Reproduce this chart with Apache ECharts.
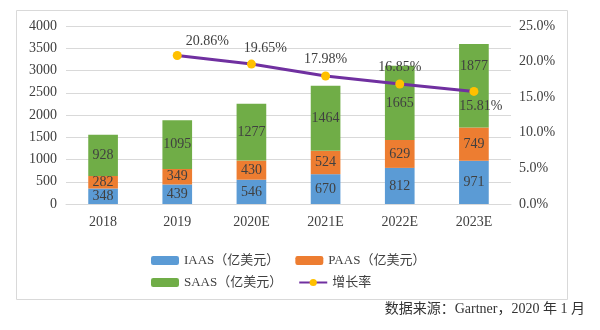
<!DOCTYPE html>
<html>
<head>
<meta charset="utf-8">
<script src="https://cdn.jsdelivr.net/npm/echarts@6/dist/echarts.min.js"></script>
<style>
  html, body { margin: 0; padding: 0; background: #fff; }
  #chart { width: 600px; height: 330px; }
</style>
</head>
<body>
<div id="chart"></div>
<script>
// Cloud market size by service layer (亿美元) and its yearly growth rate
const categories = ['2018', '2019', '2020E', '2021E', '2022E', '2023E'];
const iaas = [348, 439, 546, 670, 812, 971];
const paas = [282, 349, 430, 524, 629, 749];
const saas = [928, 1095, 1277, 1464, 1665, 1877];
const growth = [null, 20.86, 19.65, 17.98, 16.85, 15.81];
const leftTicks = { min: 0, max: 4000, interval: 500 };
const rightTicks = { min: 0, max: 25, interval: 5 };

const FONT = "'Liberation Serif', 'Times New Roman', 'Noto Sans CJK SC', serif";
const TEXT = '#404040';
const GRID = '#d9d9d9';

const chart = echarts.init(document.getElementById('chart'), null, { renderer: 'canvas' });

const barLabel = {
  show: true,
  position: 'inside',
  color: TEXT,
  fontFamily: FONT,
  fontSize: 14
};

// The 2023E SaaS label sits higher so it stays clear of the growth-rate label
const saasData = saas.map((v, i) => i === 5
  ? { value: v, label: { offset: [0, -19] } }
  : v);

// Growth labels: the first two are nudged right, the last goes below
const growthData = growth.map((v, i) => {
  if (v === null) return null;
  if (i === 1) return { value: v, label: { position: 'top', offset: [30, 2] } };
  if (i === 2) return { value: v, label: { position: 'top', offset: [14, 1] } };
  if (i === 5) return { value: v, label: { position: 'bottom', offset: [7, -2] } };
  return v;
});

const option = {
  animation: false,
  textStyle: { fontFamily: FONT },
  grid: { left: 66, right: 89, top: 26, bottom: 126 },
  graphic: [
    {
      type: 'rect',
      shape: { x: 16.5, y: 10.5, width: 551, height: 289 },
      style: { fill: 'none', stroke: GRID, lineWidth: 1 },
      z: -1
    },
    {
      type: 'text',
      right: 15,
      top: 302,
      style: {
        text: '数据来源：Gartner，2020 年 1 月',
        fill: '#333',
        font: "14px " + FONT
      }
    }
  ],
  legend: [
    {
      data: ['IAAS（亿美元）', 'PAAS（亿美元）'],
      left: 146, top: 249,
      itemWidth: 28, itemHeight: 9, itemGap: 16,
      textStyle: { color: TEXT, fontSize: 13, fontFamily: FONT }
    },
    {
      data: ['SAAS（亿美元）', '增长率'],
      left: 146, top: 271,
      itemWidth: 28, itemHeight: 9, itemGap: 16,
      textStyle: { color: TEXT, fontSize: 13, fontFamily: FONT }
    }
  ],
  xAxis: {
    type: 'category',
    data: categories,
    axisLine: { lineStyle: { color: GRID } },
    axisTick: { show: false },
    axisLabel: { color: TEXT, fontSize: 14, fontFamily: FONT, margin: 11 }
  },
  yAxis: [
    {
      type: 'value',
      min: leftTicks.min, max: leftTicks.max, interval: leftTicks.interval,
      axisLine: { show: false },
      axisTick: { show: false },
      splitLine: { lineStyle: { color: GRID } },
      axisLabel: {
        color: TEXT, fontSize: 14, fontFamily: FONT, margin: 9,
        formatter: v => String(v)
      }
    },
    {
      type: 'value',
      min: rightTicks.min, max: rightTicks.max, interval: rightTicks.interval,
      axisLine: { show: false },
      axisTick: { show: false },
      splitLine: { show: false },
      axisLabel: {
        color: TEXT, fontSize: 14, fontFamily: FONT, margin: 8,
        formatter: v => v.toFixed(1) + '%'
      }
    }
  ],
  series: [
    {
      name: 'IAAS（亿美元）', type: 'bar', stack: 'cloud', data: iaas,
      barWidth: '40%',
      itemStyle: { color: '#5B9BD5' },
      label: barLabel
    },
    {
      name: 'PAAS（亿美元）', type: 'bar', stack: 'cloud', data: paas,
      barWidth: '40%',
      itemStyle: { color: '#ED7D31' },
      label: barLabel
    },
    {
      name: 'SAAS（亿美元）', type: 'bar', stack: 'cloud', data: saasData,
      barWidth: '40%',
      itemStyle: { color: '#70AD47' },
      label: barLabel
    },
    {
      name: '增长率', type: 'line', yAxisIndex: 1, data: growthData,
      symbol: 'circle', symbolSize: 9,
      lineStyle: { color: '#7030A0', width: 3 },
      itemStyle: { color: '#FFC000' },
      label: {
        show: true, position: 'top', color: TEXT, fontSize: 14, fontFamily: FONT,
        formatter: p => Number(p.value).toFixed(2) + '%'
      },
      z: 5
    }
  ]
};

chart.setOption(option);
</script>
</body>
</html>
